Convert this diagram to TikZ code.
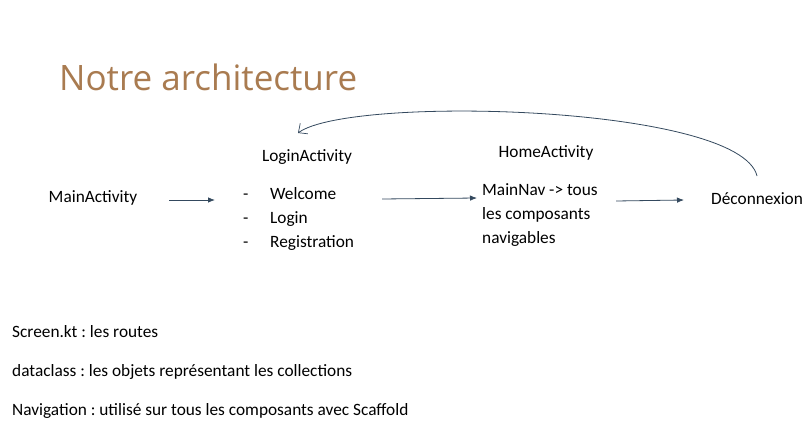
\documentclass[tikz,border=0pt]{standalone}
\usepackage{fontspec}
\setmainfont{Carlito}
\newfontfamily\titlefont{Open Sans}
\usetikzlibrary{arrows.meta}
\definecolor{linecol}{HTML}{34495E}
\definecolor{titlecol}{HTML}{A97B50}
\frenchspacing
\begin{document}
\begin{tikzpicture}[x=1pt,y=-1pt,
  lbl/.style={inner sep=0pt,anchor=base west,font=\fontsize{17.3}{20}\selectfont,text=black},
  flow/.style={draw=linecol,line width=0.8pt,-{Latex[length=7pt,width=5.5pt]}},
  back/.style={draw=linecol,line width=0.8pt,-{Straight Barb[length=7pt,width=13pt,line width=0.7pt]}}]
\useasboundingbox (0,0) rectangle (811,430);
\fill[white] (0,0) rectangle (811,430);
% heading
\node[anchor=base west,inner sep=0pt,text=titlecol,font=\titlefont\fontsize{35}{40}\selectfont] (title) at (59,91) {Notre architecture};
% activities
\node[lbl,anchor=base] (main) at (93,203) {MainActivity};
\node[lbl,anchor=base] (loginT) at (307,162) {LoginActivity};
\node[lbl] (d1) at (243,200) {-};
\node[lbl] (d2) at (243,224) {-};
\node[lbl] (d3) at (243,248) {-};
\node[lbl] (welcome) at (270,200) {Welcome};
\node[lbl] (login) at (270,224) {Login};
\node[lbl] (reg) at (270,248) {Registration};
\node[lbl,anchor=base] (homeT) at (546,158) {HomeActivity};
\node[lbl] (nav1) at (482,196) {MainNav -> tous};
\node[lbl] (nav2) at (482,220) {les composants};
\node[lbl] (nav3) at (482,244) {navigables};
\node[lbl] (deco) at (711,205) {Déconnexion};
% connectors
\coordinate (a1s) at (169,200);
\coordinate (a1e) at (215,200);
\coordinate (a2s) at (382,199);
\coordinate (a2e) at (477,198);
\coordinate (a3s) at (616,201);
\coordinate (a3e) at (684,200);
\draw[flow] (a1s) -- (a1e);
\draw[flow] (a2s) -- (a2e);
\draw[flow] (a3s) -- (a3e);
\coordinate (bs) at (757,176);
\coordinate (be) at (298,133);
\draw[back] (bs) .. controls (740,105) and (350,95) .. (be);
% notes
\node[lbl] (n1) at (12,337) {Screen.kt : les routes};
\node[lbl] (n2) at (12,376) {dataclass : les objets représentant les collections};
\node[lbl] (n3) at (12,415) {Navigation : utilisé sur tous les composants avec Scaffold};
\end{tikzpicture}
\end{document}
